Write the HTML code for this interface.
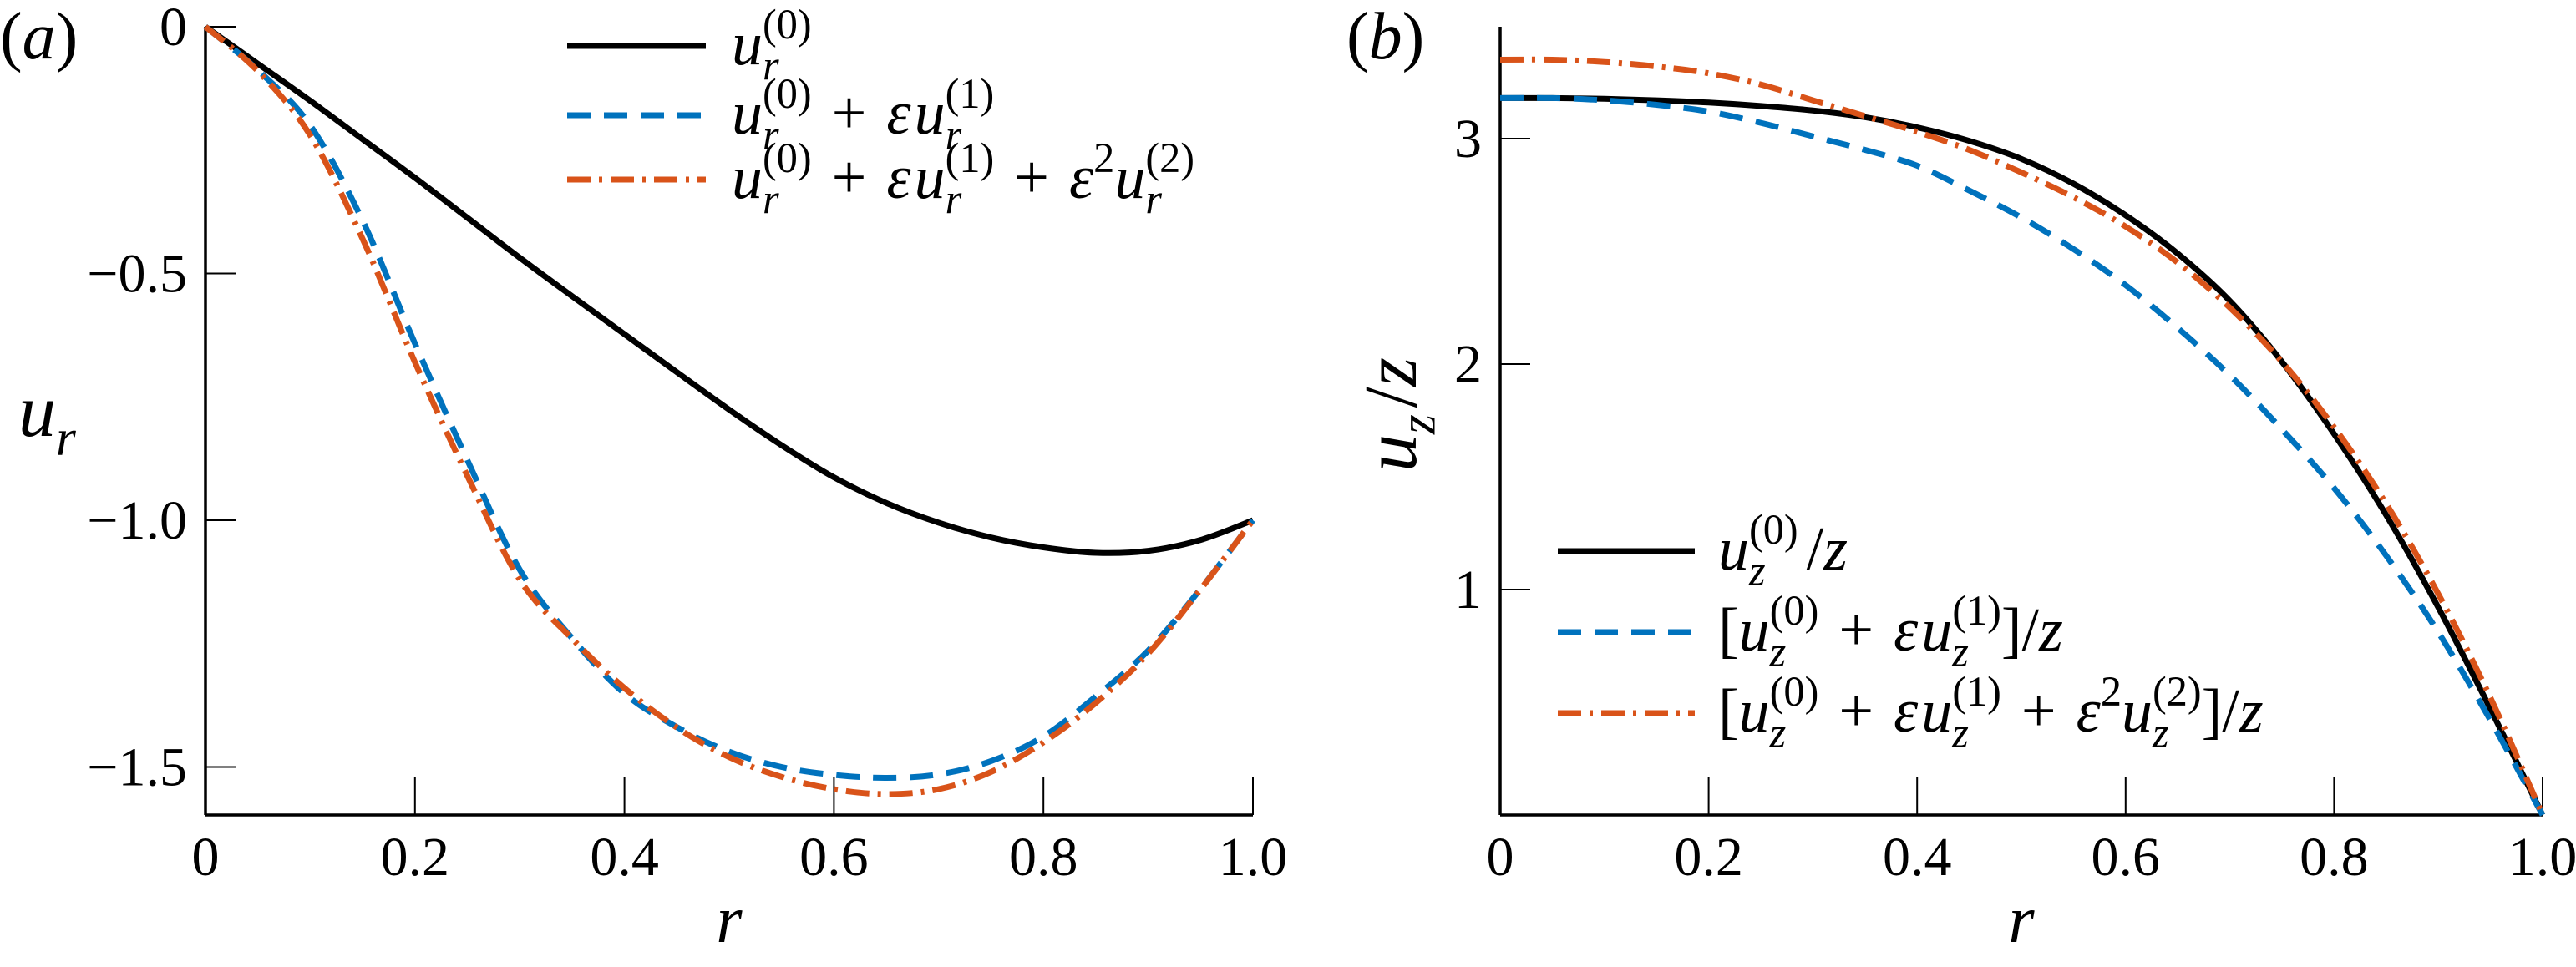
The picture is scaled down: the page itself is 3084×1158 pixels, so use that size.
<!DOCTYPE html>
<html><head><meta charset="utf-8"><style>
html,body{margin:0;padding:0;background:#fff;}
svg text{font-family:"Liberation Serif","Noto Serif CJK SC","DejaVu Serif",serif;}
</style></head><body>
<svg id="chart" width="3084" height="1153" viewBox="0 0 3084 1153" xmlns="http://www.w3.org/2000/svg"></svg>
<script>
// ---- data panel a ----
const rA = [0,0.05,0.1,0.15,0.2,0.25,0.3,0.35,0.4,0.45,0.5,0.55,0.6,0.65,0.7,0.75,0.8,0.85,0.9,0.95,1];
const aBlack = [0,-0.075,-0.15,-0.228,-0.306,-0.387,-0.468,-0.546,-0.623,-0.70,-0.776,-0.848,-0.913,-0.965,-1.005,-1.035,-1.055,-1.066,-1.062,-1.04,-1.0];
const aBlue = [0,-0.088,-0.2,-0.393,-0.642,-0.878,-1.10,-1.239,-1.351,-1.419,-1.469,-1.5,-1.516,-1.522,-1.515,-1.488,-1.438,-1.357,-1.264,-1.139,-1.0];
const aOrange = [0,-0.09,-0.22,-0.43,-0.68,-0.91,-1.12,-1.24,-1.34,-1.42,-1.48,-1.52,-1.545,-1.555,-1.545,-1.51,-1.45,-1.37,-1.27,-1.14,-1.0];
const aYTicks = [0,-0.5,-1.0,-1.5];
const aYTickLabels = ["0","\u22120.5","\u22121.0","\u22121.5"];
// ---- data panel b ----
const rB = [0,0.05,0.1,0.15,0.2,0.25,0.3,0.35,0.4,0.45,0.5,0.55,0.6,0.65,0.7,0.75,0.8,0.85,0.9,0.95,1];
const bBlack = [3.18,3.18,3.177,3.17,3.16,3.145,3.125,3.095,3.05,2.99,2.91,2.80,2.66,2.49,2.28,2.01,1.69,1.33,0.92,0.47,0];
const bBlue = [3.18,3.18,3.17,3.15,3.12,3.07,3.01,2.95,2.88,2.77,2.65,2.51,2.35,2.16,1.95,1.71,1.45,1.15,0.81,0.42,0];
const bOrange = [3.35,3.35,3.34,3.32,3.29,3.24,3.17,3.10,3.03,2.95,2.85,2.74,2.61,2.45,2.25,2.01,1.72,1.38,0.98,0.52,0];
const bYTicks = [1,2,3];
const bYTickLabels = ["1","2","3"];
const xTicks = [0,0.2,0.4,0.6,0.8,1.0];
const xTickLabels = ["0","0.2","0.4","0.6","0.8","1.0"];

const NS="http://www.w3.org/2000/svg";
const FONT='"Liberation Serif","Noto Serif CJK SC","DejaVu Serif",serif';
const svg=document.getElementById('chart');
function el(tag,attrs,parent){const e=document.createElementNS(NS,tag);for(const k in attrs)e.setAttribute(k,attrs[k]);if(tag==='text')e.setAttribute('font-family',FONT);(parent||svg).appendChild(e);return e;}

const xa=r=>246+1254*r, ya=v=>32-591*v;
const xb=r=>1796+1248*r, yb=v=>976-270*v;

function smoothPath(xs,ys,fx,fy){
  const P=xs.map((x,i)=>[fx(x),fy(ys[i])]);
  let d=`M${P[0][0]},${P[0][1]}`;
  for(let i=0;i<P.length-1;i++){
    const p0=P[i-1]||P[i],p1=P[i],p2=P[i+1],p3=P[i+2]||P[i+1];
    const c1=[p1[0]+(p2[0]-p0[0])/6,p1[1]+(p2[1]-p0[1])/6];
    const c2=[p2[0]-(p3[0]-p1[0])/6,p2[1]-(p3[1]-p1[1])/6];
    d+=` C${c1[0]},${c1[1]} ${c2[0]},${c2[1]} ${p2[0]},${p2[1]}`;
  }
  return d;
}
const styles={
  black:{stroke:'#000','stroke-width':7,fill:'none'},
  blue:{stroke:'#0072BD','stroke-width':7,fill:'none','stroke-dasharray':'28 16'},
  orange:{stroke:'#D95319','stroke-width':7,fill:'none','stroke-dasharray':'28 10 4 10'}
};
function sty(k){return Object.assign({},styles[k]);}

function rich(parent,x,y,tokens,size){
  const g=el('g',{},parent);
  let cx=x; const ss=size*0.68;
  for(const t of tokens){
    if(t.gap!==undefined&&t.t===undefined&&t.sup===undefined&&t.sub===undefined){cx+=t.gap;continue;}
    if(t.sup!==undefined||t.sub!==undefined){
      let w=0;
      if(t.sup!==undefined){const e=el('text',{x:cx,y:y-size*0.42,'font-size':ss},g);e.textContent=t.sup;w=Math.max(w,e.getComputedTextLength());}
      if(t.sub!==undefined){const e=el('text',{x:cx,y:y+size*0.25,'font-size':ss,'font-style':'italic'},g);e.textContent=t.sub;w=Math.max(w,e.getComputedTextLength());}
      cx+=w;
    } else {
      const e=el('text',{x:cx,y:y,'font-size':size,'font-style':t.it?'italic':'normal'},g);
      e.textContent=t.t; cx+=e.getComputedTextLength();
    }
  }
  return g;
}

function axes(prefix,fx,fy,yTicks,yLabels,x0,x1,yTop,yBot){
  const g=el('g',{});
  
  
  el('line',{x1:x0,y1:yTop,x2:x0,y2:yBot,stroke:'#000','stroke-width':3.5},g);
  el('line',{x1:x0,y1:yBot,x2:x1,y2:yBot,stroke:'#000','stroke-width':3.5},g);
  xTicks.forEach((t,i)=>{
    const X=fx(t);
    if(i>0) el('line',{x1:X,y1:yBot,x2:X,y2:yBot-46,stroke:'#000','stroke-width':2},g);
    const tx=el('text',{x:X,y:1048,'font-size':66,'text-anchor':'middle'},g);
    tx.textContent=xTickLabels[i];
    
    
  });
  yTicks.forEach((t,i)=>{
    const Y=fy(t);
    el('line',{x1:x0,y1:Y,x2:x0+36,y2:Y,stroke:'#000','stroke-width':2},g);
    const tx=el('text',{x:x0-22,y:Y+22,'font-size':66,'text-anchor':'end'},g);
    tx.textContent=yLabels[i];
    
    
  });
  const xl=el('text',{x:(x0+x1)/2,y:1128,'font-size':80,'font-style':'italic','text-anchor':'middle'},g);
  xl.textContent='r';
  
  
}

axes('panel-a',xa,ya,aYTicks,aYTickLabels,246,1500,32,976);
[['black',aBlack],['blue',aBlue],['orange',aOrange]].forEach(([k,arr])=>{
  const p=el('path',Object.assign({d:smoothPath(rA,arr,xa,ya)},sty(k)));
  
  
});
axes('panel-b',xb,yb,bYTicks,bYTickLabels,1796,3044,32,976);
[['black',bBlack],['blue',bBlue],['orange',bOrange]].forEach(([k,arr])=>{
  const p=el('path',Object.assign({d:smoothPath(rB,arr,xb,yb)},sty(k)));
  
  
});

const la=rich(svg,0,70,[{t:'('},{t:'a',it:true},{t:')'}],80);


const lb=rich(svg,1612,70,[{t:'('},{t:'b',it:true},{t:')'}],80);



const ytA=rich(svg,22,522,[{t:'u',it:true},{sub:'r'}],90);


const ytBg=el('g',{transform:'translate(1695,565) rotate(-90)'});


rich(ytBg,0,0,[{t:'u',it:true},{sub:'z'},{gap:8},{t:'/'},{t:'z',it:true}],90);

const P={gap:24}, PL={t:'+'};
const U0r={sup:'(0)',sub:'r'}, U1r={sup:'(1)',sub:'r'}, U2r={sup:'(2)',sub:'r'};
const legA=[
 ['black',[{t:'u',it:true},U0r]],
 ['blue',[{t:'u',it:true},U0r,P,PL,P,{t:'\u03b5',it:true},{gap:4},{t:'u',it:true},U1r]],
 ['orange',[{t:'u',it:true},U0r,P,PL,P,{t:'\u03b5',it:true},{gap:4},{t:'u',it:true},U1r,P,PL,P,{t:'\u03b5',it:true},{sup:'2'},{t:'u',it:true},U2r]]
];
const legAy=[55,138,215];
legA.forEach(([k,tok],i)=>{
  const g=el('g',{});
  
  
  el('line',Object.assign({x1:679,y1:legAy[i],x2:845,y2:legAy[i]},sty(k)),g);
  rich(g,876,legAy[i]+22,tok,74);
});
const U0z={sup:'(0)',sub:'z'}, U1z={sup:'(1)',sub:'z'}, U2z={sup:'(2)',sub:'z'};
const legB=[
 ['black',[{t:'u',it:true},U0z,{gap:10},{t:'/'},{t:'z',it:true}]],
 ['blue',[{t:'['},{t:'u',it:true},U0z,P,PL,P,{t:'\u03b5',it:true},{gap:4},{t:'u',it:true},U1z,{t:']/'},{t:'z',it:true}]],
 ['orange',[{t:'['},{t:'u',it:true},U0z,P,PL,P,{t:'\u03b5',it:true},{gap:4},{t:'u',it:true},U1z,P,PL,P,{t:'\u03b5',it:true},{sup:'2'},{t:'u',it:true},U2z,{t:']/'},{t:'z',it:true}]]
];
const legBy=[660,757,854];
legB.forEach(([k,tok],i)=>{
  const g=el('g',{});
  
  
  el('line',Object.assign({x1:1865,y1:legBy[i],x2:2029,y2:legBy[i]},sty(k)),g);
  rich(g,2057,legBy[i]+22,tok,74);
});
</script>
</body></html>
